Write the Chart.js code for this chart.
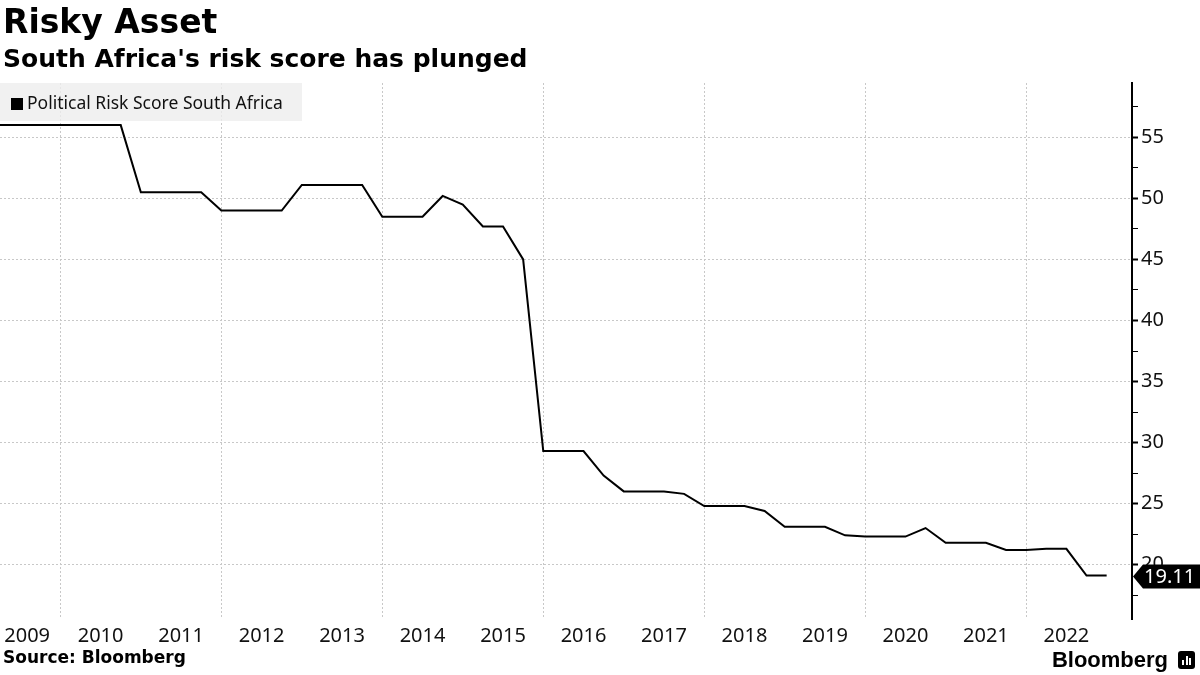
<!DOCTYPE html>
<html>
<head>
<meta charset="utf-8">
<script src="https://cdn.jsdelivr.net/npm/chart.js@4"></script>
<style>
  body { margin: 0; background: #fff; }
  #wrap { position: relative; width: 1200px; height: 675px; overflow: hidden; background: #fff; }
  #c { position: absolute; left: 0; top: 0; }
  .title { position: absolute; left: 3px; top: 2px; font: bold 33px "DejaVu Sans"; line-height: 40px; color: #000; }
  .subtitle { position: absolute; left: 3px; top: 44px; font: bold 25px "DejaVu Sans"; line-height: 30px; color: #000; }
  .legend { position: absolute; left: 0; top: 83px; width: 302px; height: 38px; background: rgba(238,238,238,0.8);
            font: 17.5px "Noto Sans"; color: #111; line-height: 38px; white-space: nowrap; }
  .legend i { display: inline-block; width: 12px; height: 12px; background: #000; margin: 0 4px 0 11px; vertical-align: -1px; }
  .source { position: absolute; left: 3px; top: 647px; font: bold 17px "DejaVu Sans"; color: #000; }
  .brand { position: absolute; right: 5px; top: 647px; font: bold 22px "Liberation Sans"; color: #000; }
  .brand b { display: inline-block; position: relative; width: 17px; height: 18px; background: #000; border-radius: 3px; margin-left: 10px; vertical-align: -2px; }
  .brand b span { position: absolute; bottom: 4px; width: 2px; background: #fff; }
</style>
</head>
<body>
<div id="wrap">
  <canvas id="c" width="1200" height="675"></canvas>
  <div class="title">Risky Asset</div>
  <div class="subtitle">South Africa's risk score has plunged</div>
  <div class="legend"><i></i>Political Risk Score South Africa</div>
  <div class="source">Source: Bloomberg</div>
  <div class="brand">Bloomberg<b><span style="left:4px;height:5px"></span><span style="left:7.5px;height:9px"></span><span style="left:11px;height:7px"></span></b></div>
</div>
<script>
// quarterly readings, first point is mid 2009
const years = ['2009','2010','2011','2012','2013','2014','2015','2016','2017','2018','2019','2020','2021','2022'];
const score = [
  56.0, 56.0, 56.0, 56.0, 56.0, 56.0, 56.0, 50.5, 50.5, 50.5,
  50.5, 49.0, 49.0, 49.0, 49.0, 51.1, 51.1, 51.1, 51.1, 48.5,
  48.5, 48.5, 50.2, 49.5, 47.7, 47.7, 45.0, 29.3, 29.3, 29.3,
  27.3, 26.0, 26.0, 26.0, 25.8, 24.8, 24.8, 24.8, 24.4, 23.1,
  23.1, 23.1, 22.4, 22.3, 22.3, 22.3, 23.0, 21.8, 21.8, 21.8,
  21.2, 21.2, 21.3, 21.3, 19.11, 19.11
];
const yTicks = [17.5, 20, 22.5, 25, 27.5, 30, 32.5, 35, 37.5, 40, 42.5, 45, 47.5, 50, 52.5, 55, 57.5];

const points = score.map((v, i) => ({ x: i, y: v }));
const xMax = 56.26;

// black tag with the latest value on the right axis
const lastTag = {
  id: 'lastTag',
  afterDraw(chart) {
    const ctx = chart.ctx;
    const y = chart.scales.y.getPixelForValue(score[score.length - 1]) + 1;
    const x0 = chart.chartArea.right + 1;
    ctx.save();
    ctx.fillStyle = '#000';
    ctx.beginPath();
    ctx.moveTo(x0, y);
    ctx.lineTo(x0 + 10, y - 12);
    ctx.lineTo(1200, y - 12);
    ctx.lineTo(1200, y + 12);
    ctx.lineTo(x0 + 10, y + 12);
    ctx.closePath();
    ctx.fill();
    ctx.fillStyle = '#fff';
    ctx.font = '20px "Noto Sans"';
    ctx.textBaseline = 'middle';
    ctx.fillText(score[score.length - 1].toFixed(2), x0 + 11, y + 1);
    ctx.restore();
  }
};

const noSidePad = s => { s.paddingLeft = 0; s.paddingRight = 0; };

new Chart(document.getElementById('c'), {
  type: 'line',
  data: {
    datasets: [{
      data: points,
      borderColor: '#000',
      borderWidth: 2,
      pointRadius: 0,
      tension: 0,
      xAxisID: 'x'
    }]
  },
  options: {
    responsive: false,
    animation: false,
    devicePixelRatio: 1,
    layout: { padding: { top: 83, left: 0, right: 0, bottom: 0 } },
    plugins: { legend: { display: false }, tooltip: { enabled: false } },
    scales: {
      x: {
        type: 'linear',
        min: 0,
        max: xMax,
        afterBuildTicks: s => { s.ticks = [3, 11, 19, 27, 35, 43, 51].map(v => ({ value: v })); },
        afterFit: s => { s.height = 0; noSidePad(s); },
        ticks: { display: false },
        grid: { color: '#c8c8c8', lineWidth: 1, drawTicks: false },
        border: { display: false, dash: [2, 2] }
      },
      x2: {
        type: 'linear',
        position: 'bottom',
        min: 0,
        max: xMax,
        // first label is nudged inside the canvas like the original
        afterBuildTicks: s => { s.ticks = years.map((y, i) => ({ value: i === 0 ? 1.35 : 1 + i * 4 })); },
        afterFit: s => { s.height = 56; noSidePad(s); },
        ticks: {
          autoSkip: false,
          maxRotation: 0,
          padding: -3,
          color: '#111',
          font: { family: 'Noto Sans', size: 20 },
          callback: (v, i) => years[i]
        },
        grid: { display: false },
        border: { display: false }
      },
      y: {
        position: 'right',
        min: 15.55,
        max: 59.45,
        afterBuildTicks: s => { s.ticks = yTicks.map(v => ({ value: v })); },
        afterFit: s => { s.width = 68; },
        ticks: {
          padding: 3,
          color: '#111',
          font: { family: 'Noto Sans', size: 20 },
          callback: v => (v % 5 === 0 ? String(v) : '')
        },
        grid: {
          color: c => (c.tick && c.tick.value % 5 === 0 ? '#c8c8c8' : 'rgba(0,0,0,0)'),
          lineWidth: 1,
          tickLength: 6,
          tickColor: '#000',
          tickWidth: c => (c.tick && c.tick.value % 5 === 0 ? 2 : 1)
        },
        border: { display: true, color: '#000', width: 2, dash: [2, 2] }
      }
    }
  },
  plugins: [lastTag]
});
</script>
</body>
</html>
